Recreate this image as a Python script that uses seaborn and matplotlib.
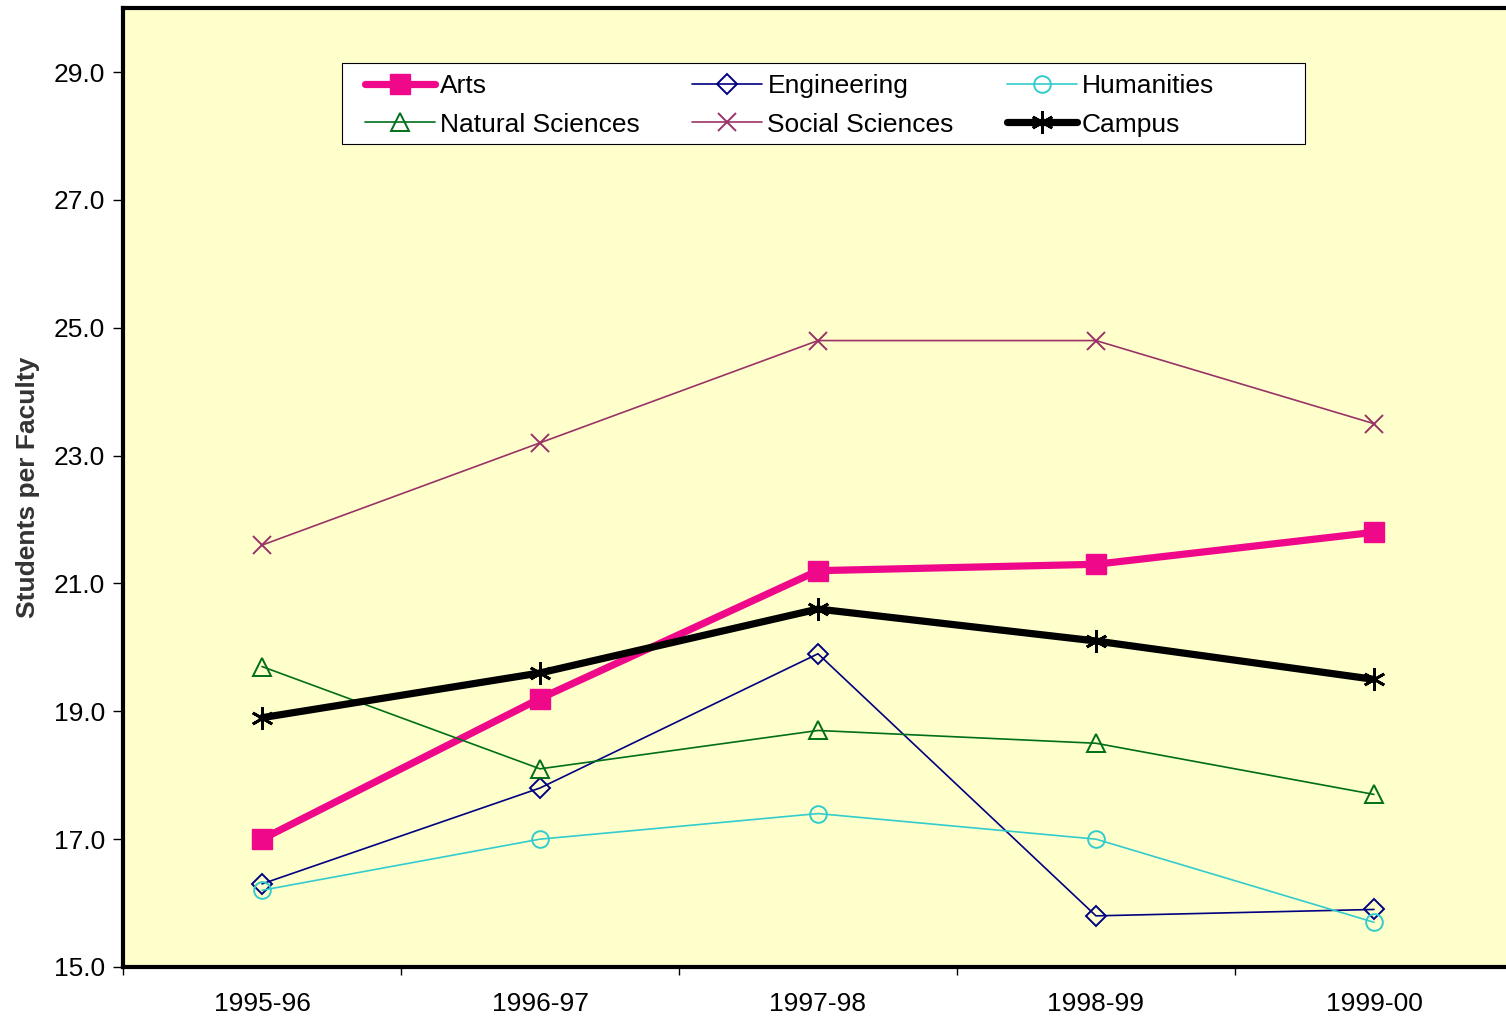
import pandas as pd
import seaborn as sns
import matplotlib.pyplot as plt
from matplotlib.patches import Rectangle

# data
years = ['1995-96', '1996-97', '1997-98', '1998-99', '1999-00']
arts = [17.0, 19.2, 21.2, 21.3, 21.8]
engineering = [16.3, 17.8, 19.9, 15.8, 15.9]
humanities = [16.2, 17.0, 17.4, 17.0, 15.7]
natural_sciences = [19.7, 18.1, 18.7, 18.5, 17.7]
social_sciences = [21.6, 23.2, 24.8, 24.8, 23.5]
campus = [18.9, 19.6, 20.6, 20.1, 19.5]
y_ticks = [15, 17, 19, 21, 23, 25, 27, 29]

series = {
    'Arts': arts,
    'Engineering': engineering,
    'Humanities': humanities,
    'Natural Sciences': natural_sciences,
    'Social Sciences': social_sciences,
    'Campus': campus,
}

styles = {
    'Arts': dict(color='#F0088A', lw=5.2, marker='s', ms=14, mfc='#F0088A', mew=1),
    'Engineering': dict(color='#000080', lw=1.2, marker='D', ms=10, mfc='none', mew=1.4),
    'Humanities': dict(color='#33CCCC', lw=1.2, marker='o', ms=12, mfc='none', mew=1.4),
    'Natural Sciences': dict(color='#006E1A', lw=1.2, marker='^', ms=13, mfc='none', mew=1.4),
    'Social Sciences': dict(color='#993366', lw=1.2, marker='x', ms=13, mfc='none', mew=1.4),
    'Campus': dict(color='black', lw=5.2, marker=(6, 2, 0), ms=16, mfc='none', mew=2.0),
}

df = pd.DataFrame({'year': years, **series})
long = df.melt(id_vars='year', var_name='group', value_name='value')

sns.set_style('white')
plt.rcParams['font.family'] = ['Liberation Sans', 'DejaVu Sans']
plt.rcParams['text.color'] = 'black'
plt.rcParams['xtick.labelcolor'] = 'black'
plt.rcParams['ytick.labelcolor'] = 'black'

fig = plt.figure(figsize=(15.06, 10.21), dpi=100)
ax = fig.add_axes([0.0817, 0.0529, 0.9229, 0.9391])
ax.set_facecolor('#FFFFCC')

handles = {}
for name in series:
    st = styles[name]
    sub = long[long['group'] == name]
    sns.lineplot(data=sub, x='year', y='value', ax=ax, color=st['color'],
                 linewidth=st['lw'], marker=st['marker'], markersize=st['ms'],
                 markerfacecolor=st['mfc'], markeredgecolor=st['color'],
                 markeredgewidth=st['mew'], label=name, legend=False)
    handles[name] = ax.lines[-1]

ax.set_xlim(-0.5, 4.5)
ax.set_ylim(15, 30)
ax.set_yticks(y_ticks)
ax.set_yticklabels([f'{v:.1f}' for v in y_ticks])
ax.set_xticks(range(len(years)))
ax.set_xticklabels(years)
ax.set_xticks([i - 0.5 for i in range(len(years))], minor=True)
ax.tick_params(axis='x', which='major', length=0, pad=18, labelsize=19, labelcolor='black')
ax.tick_params(axis='x', which='minor', length=6, width=1, direction='out', color='black', bottom=True)
ax.tick_params(axis='y', which='major', length=7, width=1, direction='out', color='black',
               left=True, pad=6, labelsize=19, labelcolor='black')

for sp in ax.spines.values():
    sp.set_color('black')
    sp.set_linewidth(3)

ax.set_xlabel('')
ax.set_ylabel('Students per Faculty', fontsize=19, fontweight='bold', color='#333333')
ax.yaxis.set_label_coords(-0.06, 0.5)

# legend box drawn separately so its size matches the original
ax.add_patch(Rectangle((0.1576, 0.8582), 0.6928, 0.0845, transform=ax.transAxes,
                       facecolor='white', edgecolor='black', linewidth=0.8, zorder=4))

order = ['Arts', 'Natural Sciences', 'Engineering', 'Social Sciences', 'Humanities', 'Campus']
leg = ax.legend([handles[n] for n in order], order, ncol=3,
                bbox_to_anchor=(0.1741, 0.9312), loc='upper left',
                frameon=False, fontsize=19, handlelength=2.65, handletextpad=0.19,
                borderpad=0, labelspacing=0.55, columnspacing=2.0, borderaxespad=0)
leg.set_zorder(5)
for t in leg.get_texts():
    t.set_color('black')

plt.savefig('out.png', dpi=100)
plt.close()
